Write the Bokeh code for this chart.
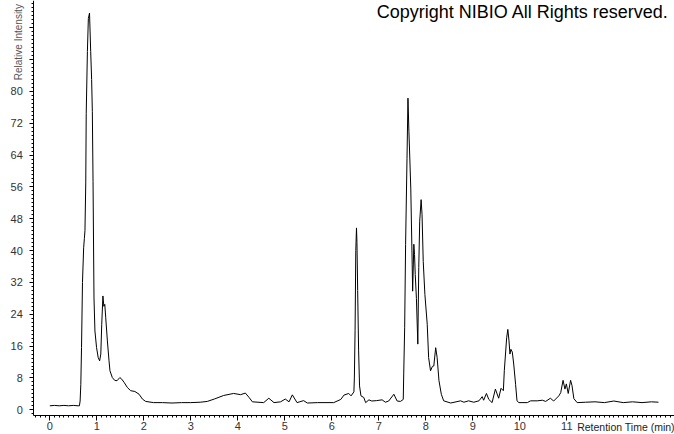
import numpy as np
from bokeh.plotting import figure
from bokeh.models import FixedTicker, Label, Range1d
from bokeh.embed import file_html
from bokeh.resources import INLINE

# Retention time (min) and relative intensity
time_min = [
    0.00, 0.10, 0.20, 0.30, 0.40, 0.50, 0.60, 0.63, 0.645, 0.66, 0.675, 0.695,
    0.72, 0.735, 0.748, 0.765, 0.775, 0.80, 0.82, 0.845, 0.87, 0.89, 0.905, 0.92,
    0.94, 0.96, 0.995, 1.03, 1.06, 1.085, 1.105, 1.13, 1.15, 1.17, 1.19, 1.225,
    1.26, 1.28, 1.33, 1.38, 1.43, 1.49, 1.53, 1.58, 1.65, 1.72, 1.81, 1.90,
    1.97, 2.04, 2.21, 2.40, 2.60, 2.80, 3.00, 3.20, 3.35, 3.50, 3.70, 3.91,
    4.06, 4.16, 4.24, 4.31, 4.55, 4.66, 4.77, 4.91, 5.01, 5.09, 5.16, 5.26,
    5.40, 5.48, 5.70, 6.04, 6.19, 6.26, 6.36, 6.41, 6.47, 6.48, 6.495, 6.51,
    6.525, 6.535, 6.55, 6.57, 6.59, 6.62, 6.68, 6.72, 6.79, 6.85, 6.95, 7.07,
    7.14, 7.21, 7.32, 7.39, 7.46, 7.52, 7.53, 7.55, 7.57, 7.60, 7.62, 7.64,
    7.66, 7.68, 7.71, 7.72, 7.745, 7.76, 7.775, 7.80, 7.83, 7.85, 7.87, 7.90,
    7.92, 7.945, 7.98, 8.03, 8.06, 8.10, 8.14, 8.17, 8.21, 8.24, 8.28, 8.33,
    8.38, 8.53, 8.74, 8.81, 8.91, 9.02, 9.13, 9.20, 9.23, 9.29, 9.34, 9.41,
    9.48, 9.55, 9.60, 9.65, 9.67, 9.72, 9.745, 9.77, 9.79, 9.81, 9.84, 9.87,
    9.91, 9.94, 9.98, 10.16, 10.23, 10.37, 10.48, 10.55, 10.65, 10.72, 10.83, 10.87,
    10.92, 10.96, 10.99, 11.03, 11.08, 11.11, 11.15, 11.22, 11.40, 11.60, 11.80, 12.00,
    12.20, 12.40, 12.60, 12.80, 12.95,
]
intensity = [
    1.0, 1.1, 1.0, 1.1, 1.0, 1.1, 1.0, 1.0, 2.2, 6.4, 15.6, 32.0,
    40.7, 43.0, 45.0, 57.0, 74.5, 90.0, 98.3, 99.7, 90.0, 83.0, 75.0, 57.4,
    28.1, 19.8, 15.6, 13.1, 12.3, 14.0, 21.5, 28.6, 26.0, 26.5, 23.1, 17.3,
    12.3, 9.8, 8.1, 7.4, 7.3, 8.1, 7.7, 6.9, 5.6, 4.8, 4.6, 3.9,
    2.7, 2.1, 1.8, 1.8, 1.7, 1.8, 1.8, 1.9, 2.1, 2.7, 3.6, 4.1,
    3.8, 4.2, 3.1, 2.0, 1.8, 2.9, 1.8, 2.0, 2.7, 2.0, 3.75, 1.8,
    2.3, 1.7, 1.8, 1.8, 2.6, 3.7, 4.1, 3.5, 4.5, 8.0, 20.0, 40.0,
    45.7, 42.0, 30.0, 15.0, 6.0, 3.5, 3.1, 1.8, 2.5, 2.2, 2.3, 2.5,
    1.9, 2.2, 3.9, 2.2, 2.1, 2.6, 9.0, 20.6, 41.6, 63.2, 78.3, 70.0,
    63.0, 55.7, 36.6, 29.8, 41.6, 39.0, 34.0, 28.0, 16.5, 35.7, 47.4, 52.8,
    49.0, 37.3, 29.0, 21.5, 13.1, 9.8, 10.9, 11.0, 15.6, 13.2, 7.3, 3.9,
    2.25, 1.7, 2.25, 1.9, 2.25, 1.9, 2.25, 3.3, 2.4, 4.1, 2.6, 1.8,
    5.2, 2.9, 5.4, 4.8, 9.8, 18.1, 20.2, 17.3, 14.0, 15.2, 14.5, 11.5,
    6.4, 2.25, 1.8, 1.8, 2.25, 2.25, 2.4, 2.1, 2.9, 2.2, 3.5, 4.3,
    7.4, 5.2, 6.5, 4.1, 7.4, 6.1, 2.8, 1.8, 1.9, 2.0, 1.8, 2.2,
    1.8, 2.0, 1.8, 2.0, 1.9,
]

x_major_ticks = list(range(0, 12))
y_major_ticks = list(range(0, 97, 8))
y_tick_labels = {88: "", 96: ""}

x_title = "Retention Time (min)"
y_title = "Relative Intensity"
copyright_text = "Copyright NIBIO All Rights reserved."

# axis extents (data units)
x_lo, x_hi = -0.34, 13.29
y_lo, y_hi = -1.43, 102.84

p = figure(
    width=674, height=434,
    output_backend="svg", toolbar_location=None,
    x_range=Range1d(-1.049, 13.291), y_range=Range1d(-6.21, 102.84),
    min_border=0, min_border_left=0, min_border_right=0,
    min_border_top=0, min_border_bottom=0,
    background_fill_color="white", border_fill_color="white",
)
p.outline_line_color = None
p.xgrid.visible = False
p.ygrid.visible = False

p.line(time_min, intensity, line_color="black", line_width=1)

# x axis (drawn inside the frame at a fixed location)
xa = p.xaxis[0]
xa.fixed_location = y_lo
xa.bounds = (x_lo, x_hi)
xa.ticker = FixedTicker(ticks=x_major_ticks,
                        minor_ticks=[round(v, 1) for v in np.arange(-0.3, 13.35, 0.1)])
xa.axis_line_color = "black"
xa.major_tick_line_color = "black"
xa.minor_tick_line_color = "black"
xa.major_tick_out = 5
xa.major_tick_in = 0
xa.minor_tick_out = 2
xa.minor_tick_in = 0
xa.major_label_standoff = 2
xa.major_label_text_font = "Liberation Sans"
xa.major_label_text_font_size = "11px"
xa.major_label_text_color = "#333333"

# y axis
ya = p.yaxis[0]
ya.fixed_location = x_lo
ya.bounds = (y_lo, y_hi)
ya.ticker = FixedTicker(ticks=y_major_ticks, minor_ticks=list(range(-1, 103)))
ya.major_label_overrides = y_tick_labels
ya.axis_line_color = "black"
ya.major_tick_line_color = "black"
ya.minor_tick_line_color = "black"
ya.major_tick_out = 4
ya.major_tick_in = 0
ya.minor_tick_out = 2
ya.minor_tick_in = 0
ya.major_label_standoff = 7
ya.major_label_text_font = "Liberation Sans"
ya.major_label_text_font_size = "11px"
ya.major_label_text_color = "#333333"

p.add_layout(Label(x=11.22, y=-4.3, text=x_title, text_align="left",
                   text_baseline="alphabetic", text_font="Liberation Sans",
                   text_font_size="10.5px", text_color="#222222"))
p.add_layout(Label(x=-0.67, y=82.8, text=y_title, angle=np.pi / 2,
                   text_align="left", text_baseline="alphabetic",
                   text_font="Liberation Sans", text_font_size="10px",
                   text_color="#555555"))
p.add_layout(Label(x=13.17, y=100.0, text=copyright_text, text_align="right",
                   text_baseline="alphabetic", text_font="Liberation Sans",
                   text_font_size="18px", text_color="black"))

open("out.html", "w").write(file_html(p, INLINE))
